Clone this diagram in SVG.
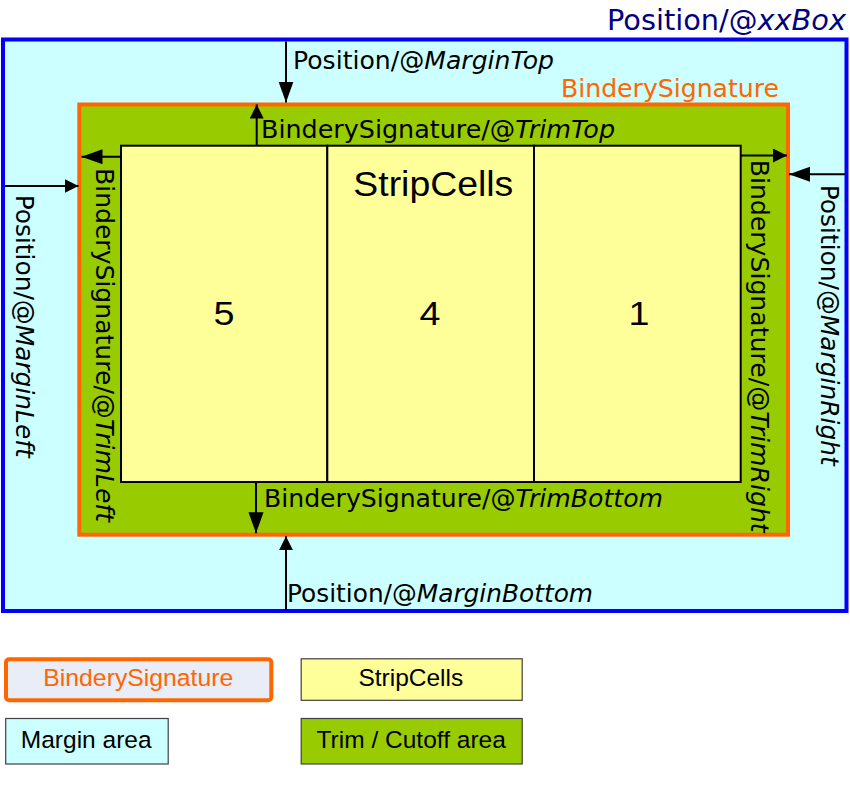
<svg xmlns="http://www.w3.org/2000/svg" width="850" height="791" viewBox="0 0 850 791">
<style>
.lbl{font-family:"DejaVu Sans",Verdana,sans-serif;font-size:24px;fill:#000}
.it{font-style:italic}
.cell{fill:#FFFF99;stroke:#000;stroke-width:2}
.conn line{stroke:#000;stroke-width:2}
.lg{font-family:"Liberation Sans",Arial,sans-serif;font-size:24.5px;fill:#000}
.big{font-family:"Liberation Sans",Arial,sans-serif;fill:#000}
.lgbox{stroke:#404040;stroke-width:1.2}
</style>
<defs>
<marker id="ahL" markerUnits="userSpaceOnUse" markerWidth="22" markerHeight="16" refX="21" refY="7.5" orient="auto"><path d="M0,0 L21,7.5 L0,15 z" fill="#000"/></marker>
<marker id="ahS" markerUnits="userSpaceOnUse" markerWidth="15" markerHeight="15" refX="14" refY="7" orient="auto"><path d="M0,0 L14,7 L0,14 z" fill="#000"/></marker>
</defs>
<rect width="850" height="791" fill="#fff"/>
<g id="position-box">
<rect x="3" y="39.5" width="843.5" height="571.5" fill="#CCFFFF" stroke="#0000FF" stroke-width="4"/>
<text x="607" y="30" font-family="DejaVu Sans, Verdana, sans-serif" font-size="28" fill="#000080" textLength="239" lengthAdjust="spacingAndGlyphs">Position/@<tspan class="it">xxBox</tspan></text>
</g>
<g id="bindery-signature">
<rect x="79.3" y="104.5" width="708.7" height="430.2" fill="#99CC00" stroke="#FF6600" stroke-width="4"/>
<text x="561" y="97.3" font-family="DejaVu Sans, Verdana, sans-serif" font-size="24" fill="#FF6600" textLength="218" lengthAdjust="spacingAndGlyphs">BinderySignature</text>
</g>
<g id="strip-cells">
<rect class="cell" x="121" y="145.7" width="206.3" height="336.3"/>
<rect class="cell" x="327.3" y="145.7" width="206.7" height="336.3"/>
<rect class="cell" x="534" y="145.7" width="206.7" height="336.3"/>
<text class="big" x="433.3" y="196" font-size="35" text-anchor="middle" textLength="160" lengthAdjust="spacingAndGlyphs">StripCells</text>
<text class="big" x="224" y="325" font-size="33" text-anchor="middle" textLength="21" lengthAdjust="spacingAndGlyphs">5</text>
<text class="big" x="430" y="325" font-size="33" text-anchor="middle" textLength="21" lengthAdjust="spacingAndGlyphs">4</text>
<text class="big" x="639" y="325" font-size="33" text-anchor="middle" textLength="21" lengthAdjust="spacingAndGlyphs">1</text>
</g>
<g class="conn" id="connectors">
<line x1="286" y1="41.5" x2="286" y2="102.5" marker-end="url(#ahL)"/>
<line x1="256.7" y1="145.7" x2="256.7" y2="104.5" marker-end="url(#ahS)"/>
<line x1="121" y1="156.7" x2="81.5" y2="156.7" marker-end="url(#ahL)"/>
<line x1="5" y1="186" x2="78.5" y2="186" marker-end="url(#ahS)"/>
<line x1="740.7" y1="155.5" x2="787" y2="155.5" marker-end="url(#ahS)"/>
<line x1="845" y1="174.3" x2="789" y2="174.3" marker-end="url(#ahL)"/>
<line x1="256" y1="482" x2="256" y2="533.3" marker-end="url(#ahL)"/>
<line x1="286" y1="610" x2="286" y2="536.2" marker-end="url(#ahS)"/>
</g>
<g id="labels">
<text class="lbl" x="293" y="69" textLength="261" lengthAdjust="spacingAndGlyphs">Position/@<tspan class="it">MarginTop</tspan></text>
<text class="lbl" x="261" y="138.3" textLength="354" lengthAdjust="spacingAndGlyphs">BinderySignature/@<tspan class="it">TrimTop</tspan></text>
<text class="lbl" x="264" y="507.3" textLength="399" lengthAdjust="spacingAndGlyphs">BinderySignature/@<tspan class="it">TrimBottom</tspan></text>
<text class="lbl" x="287" y="601.7" textLength="306" lengthAdjust="spacingAndGlyphs">Position/@<tspan class="it">MarginBottom</tspan></text>
<text class="lbl" transform="translate(96,168) rotate(90)" textLength="354" lengthAdjust="spacingAndGlyphs">BinderySignature/@<tspan class="it">TrimLeft</tspan></text>
<text class="lbl" transform="translate(16,194.7) rotate(90)" textLength="263" lengthAdjust="spacingAndGlyphs">Position/@<tspan class="it">MarginLeft</tspan></text>
<text class="lbl" transform="translate(751,159.7) rotate(90)" textLength="373" lengthAdjust="spacingAndGlyphs">BinderySignature/@<tspan class="it">TrimRight</tspan></text>
<text class="lbl" transform="translate(821,184.7) rotate(90)" textLength="281" lengthAdjust="spacingAndGlyphs">Position/@<tspan class="it">MarginRight</tspan></text>
</g>
<g id="legend-bindery">
<rect x="6" y="659.3" width="265.3" height="41" rx="3" fill="#E8EDF7" stroke="#FF6600" stroke-width="4"/>
<text class="lg" x="138.3" y="686" text-anchor="middle" style="fill:#FF6600" textLength="190" lengthAdjust="spacingAndGlyphs">BinderySignature</text>
</g>
<g id="legend-stripcells">
<rect class="lgbox" x="301.2" y="658.8" width="221" height="41.5" fill="#FFFF99"/>
<text class="lg" x="410.8" y="686" text-anchor="middle">StripCells</text>
</g>
<g id="legend-margin">
<rect class="lgbox" x="5.7" y="718.5" width="162.5" height="45.5" fill="#CCFFFF"/>
<text class="lg" x="86.2" y="747.7" text-anchor="middle">Margin area</text>
</g>
<g id="legend-trim">
<rect class="lgbox" x="301.2" y="718.5" width="221" height="45.5" fill="#99CC00"/>
<text class="lg" x="411.2" y="747.7" text-anchor="middle">Trim / Cutoff area</text>
</g>
</svg>
